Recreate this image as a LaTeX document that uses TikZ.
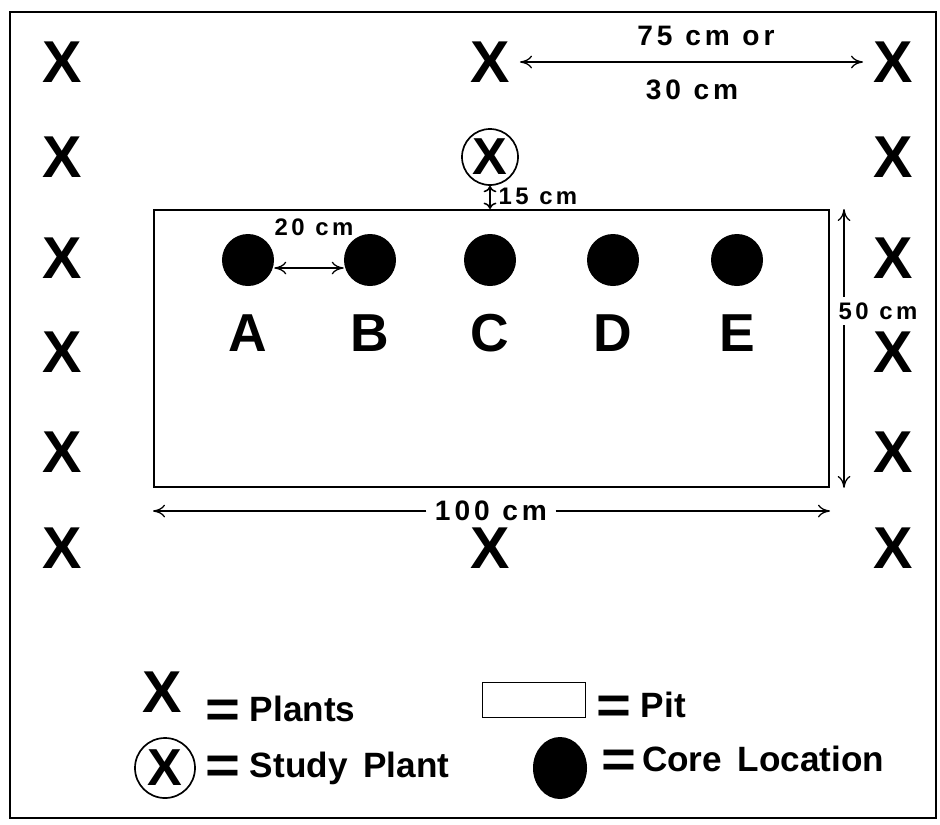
\documentclass[tikz,border=0pt]{standalone}
\usepackage{fontspec}
\usepackage{graphicx}
\setmainfont{Liberation Sans}
\usetikzlibrary{positioning,arrows.meta,shapes.geometric}
\newcommand{\gap}{\hspace{0.45em}}
\newcommand{\eqs}{\raisebox{-0.18em}{\scalebox{1.7}[1.5]{=}}}
\tikzset{
  plant/.style={font=\fontsize{42}{42}\selectfont\bfseries, inner sep=0pt},
  studyplant/.style={draw, circle, line width=1.2pt, inner sep=0pt, minimum size=1.4cm, font=\fontsize{37}{37}\selectfont\bfseries},
  core/.style={circle, fill=black, inner sep=0pt, minimum size=1.3cm},
  corelabel/.style={font=\fontsize{38}{38}\selectfont\bfseries, inner sep=0pt},
  pitbox/.style={draw, line width=1.3pt, inner sep=0pt},
  dimarrow/.style={line width=0.9pt},
  dimlabel/.style={font=\fontsize{20}{20}\selectfont\bfseries\addfontfeature{LetterSpace=14}, inner sep=2pt},
  dimsmall/.style={font=\fontsize{17}{17}\selectfont\bfseries\addfontfeature{LetterSpace=14}, inner sep=1pt},
  legtext/.style={font=\fontsize{25}{25}\selectfont\bfseries, inner sep=0pt}
}
\begin{document}
\begin{tikzpicture}[x=0.025cm, y=-0.025cm, >={To[length=3mm,width=3.2mm]}]
  \useasboundingbox (0,0) rectangle (940,824);
  % outer frame
  \draw[line width=1.4pt] (10,12) rectangle (936,818);

  % plants round the pit
  \foreach \row/\y in {1/62,2/157,3/258,4/352,5/452,6/548} {
    \node[plant] (xl\row) at (62,\y) {X};
    \node[plant] (xr\row) at (893,\y) {X};
  }
  \node[plant] (xmtop) at (490,62) {X};
  \node[plant] (xmbot) at (490,548) {X};

  % pit and core locations
  \node[pitbox, anchor=north west, minimum width=16.875cm, minimum height=6.925cm] (pit) at (153,209) {};
  \foreach \name/\x in {A/248,B/370,C/490,D/613,E/737} {
    \node[core] (core\name) at (\x,260) {};
    \node[corelabel] (lab\name) at (\x,333) {\name};
  }
  \node[studyplant] (study) at (490,157) {X};

  % spacing between plants
  \draw[<->, dimarrow, shorten <=0.25cm, shorten >=0.25cm] (xmtop.east) -- (xr1.west);
  \node[dimlabel] (lab75) at (706,36) {75\gap cm\gap or};
  \node[dimlabel] (lab30) at (692,90) {30\gap cm};

  % study plant to pit
  \draw[{To[length=1.6mm,width=3.2mm]}-{To[length=1.6mm,width=3.2mm]}, line width=1.1pt] (study.south) -- (study.south |- pit.north);
  \node[dimsmall, anchor=west] (lab15) at (497,196) {15\gap cm};

  % core spacing
  \draw[<->, dimarrow] ([yshift=-0.2cm]coreA.east) -- ([yshift=-0.2cm]coreB.west);
  \node[dimsmall] (lab20) at (314,227) {20\gap cm};

  % pit width
  \coordinate (w50top) at ([xshift=0.35cm]pit.north east);
  \coordinate (w50bot) at ([xshift=0.35cm]pit.south east);
  \node[dimsmall, inner sep=4pt] (lab50) at (878,311) {50\gap cm};
  \draw[->, dimarrow] (lab50.north -| w50top) -- (w50top);
  \draw[->, dimarrow] (lab50.south -| w50bot) -- (w50bot);

  % pit length
  \coordinate (l100left) at ([yshift=-0.6cm]pit.south west);
  \coordinate (l100right) at ([yshift=-0.6cm]pit.south east);
  \node[dimlabel, inner sep=6pt] (lab100) at (491,511) {100\gap cm};
  \draw[->, dimarrow] (lab100.west) -- (lab100.west -| l100left);
  \draw[->, dimarrow] (lab100.east) -- (lab100.east -| l100right);

  % legend
  \node[plant] (legX) at (162,692) {X};
  \node[legtext, anchor=west] (legXtext) at (205,712) {\eqs\ Plants};
  \node[pitbox, minimum width=2.575cm, minimum height=0.875cm] (legpit) at (534,700) {};
  \node[legtext, anchor=west] (legpittext) at (596,708) {\eqs\ Pit};
  \node[studyplant, minimum size=1.5cm] (legstudy) at (165,768) {X};
  \node[legtext, anchor=west] (legstudytext) at (205,768) {\eqs\ Study\gap Plant};
  \node[core, ellipse, minimum width=1.35cm, minimum height=1.55cm] (legcore) at (560,768) {};
  \node[legtext, anchor=west] (legcoretext) at (601,762) {\eqs\,Core\gap Location};
\end{tikzpicture}
\end{document}
